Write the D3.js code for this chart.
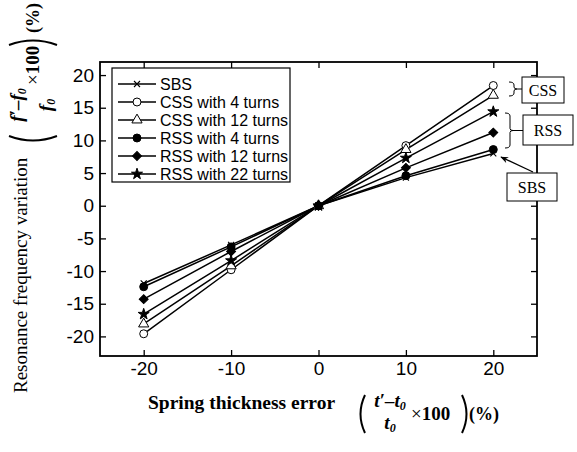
<!DOCTYPE html>
<html>
<head>
<meta charset="utf-8">
<script src="https://cdn.jsdelivr.net/npm/d3@7"></script>
<style>
  body { margin: 0; background: #fff; }
  svg { display: block; }
</style>
</head>
<body>
<div id="chart"></div>
<script>
// data
var thicknessError = [-20, -10, 0, 10, 20];
var seriesNames = ["SBS", "CSS with 4 turns", "CSS with 12 turns",
                   "RSS with 4 turns", "RSS with 12 turns", "RSS with 22 turns"];
var sbsValues   = [-11.9, -6.0, 0, 4.3, 8.0];
var css4Values  = [-19.6, -9.8, 0, 9.2, 18.4];
var css12Values = [-18.1, -9.2, 0, 8.6, 16.9];
var rss4Values  = [-12.4, -6.3, 0, 4.6, 8.6];
var rss12Values = [-14.3, -7.0, 0, 5.8, 11.2];
var rss22Values = [-16.6, -8.4, 0, 7.3, 14.4];
var xTickValues = [-20, -10, 0, 10, 20];
var yTickValues = [-20, -15, -10, -5, 0, 5, 10, 15, 20];

var allValues = [sbsValues, css4Values, css12Values, rss4Values, rss12Values, rss22Values];

// marker style per series (same order as seriesNames)
var markerStyles = [
  { shape: "x",        filled: false, size: 36 },
  { shape: "circle",   filled: false, size: 50 },
  { shape: "triangle", filled: false, size: 45 },
  { shape: "circle",   filled: true,  size: 50 },
  { shape: "diamond",  filled: true,  size: 40 },
  { shape: "star",     filled: true,  size: 38 }
];

var W = 577, H = 452;
var plotL = 100, plotR = 537, plotT = 62, plotB = 356;

var svg = d3.select("#chart").append("svg")
  .attr("width", W).attr("height", H)
  .style("background", "#fff");

var x = d3.scaleLinear().domain([-25, 25]).range([plotL, plotR]);
var y = d3.scaleLinear().domain([-23, 22]).range([plotB, plotT]);

var tickFont = "19px 'Liberation Sans', Arial, sans-serif";

// axes, ticks pointing inward on all four sides
var gx = svg.append("g").attr("transform", "translate(0," + plotB + ")")
  .call(d3.axisBottom(x).tickValues(xTickValues).tickSizeInner(-6).tickSizeOuter(0)
        .tickPadding(6).tickFormat(function (d) { return String(d); }));
var gy = svg.append("g").attr("transform", "translate(" + plotL + ",0)")
  .call(d3.axisLeft(y).tickValues(yTickValues).tickSizeInner(-6).tickSizeOuter(0)
        .tickPadding(6).tickFormat(function (d) { return String(d); }));
var gt = svg.append("g").attr("transform", "translate(0," + plotT + ")")
  .call(d3.axisTop(x).tickValues(xTickValues).tickSizeInner(-6).tickSizeOuter(0).tickFormat(""));
var gr = svg.append("g").attr("transform", "translate(" + plotR + ",0)")
  .call(d3.axisRight(y).tickValues(yTickValues).tickSizeInner(-6).tickSizeOuter(0).tickFormat(""));

[gx, gy, gt, gr].forEach(function (g) {
  g.select(".domain").remove();
  g.selectAll(".tick line").attr("stroke", "#000").attr("stroke-width", 1.3);
  g.selectAll(".tick text").style("font", tickFont).attr("fill", "#000");
});

// frame
svg.append("rect")
  .attr("x", plotL).attr("y", plotT)
  .attr("width", plotR - plotL).attr("height", plotB - plotT)
  .attr("fill", "none").attr("stroke", "#000").attr("stroke-width", 1.8);

function symbolPath(st) {
  if (st.shape === "x") {
    var s = Math.sqrt(st.size) / 2;
    return "M" + (-s) + "," + (-s) + "L" + s + "," + s + "M" + (-s) + "," + s + "L" + s + "," + (-s);
  }
  var type = { circle: d3.symbolCircle, triangle: d3.symbolTriangle,
               diamond: d3.symbolSquare, star: d3.symbolStar }[st.shape];
  return d3.symbol().type(type).size(st.size)();
}

function drawMarker(g, st, cx, cy) {
  g.append("path")
    .attr("d", symbolPath(st))
    .attr("transform", "translate(" + cx + "," + cy + ")" + (st.shape === "diamond" ? " rotate(45)" : ""))
    .attr("fill", st.filled ? "#000" : "#fff")
    .attr("stroke", "#000")
    .attr("stroke-width", st.shape === "x" ? 1.1 : 1);
}

var line = d3.line()
  .x(function (d) { return x(d[0]); })
  .y(function (d) { return y(d[1]); });

var plot = svg.append("g");
allValues.forEach(function (vals, i) {
  var pts = thicknessError.map(function (t, j) { return [t, vals[j]]; });
  plot.append("path").datum(pts)
    .attr("d", line)
    .attr("fill", "none").attr("stroke", "#000").attr("stroke-width", 1.5);
});
allValues.forEach(function (vals, i) {
  thicknessError.forEach(function (t, j) {
    drawMarker(plot, markerStyles[i], x(t), y(vals[j]));
  });
});

// legend
var legend = svg.append("g");
legend.append("rect")
  .attr("x", 112).attr("y", 68).attr("width", 178).attr("height", 114)
  .attr("fill", "#fff").attr("stroke", "#000").attr("stroke-width", 1.2);
seriesNames.forEach(function (name, i) {
  var ly = 84 + i * 18;
  legend.append("line")
    .attr("x1", 118).attr("x2", 156).attr("y1", ly).attr("y2", ly)
    .attr("stroke", "#000").attr("stroke-width", 1.3);
  drawMarker(legend, markerStyles[i], 137, ly);
  legend.append("text")
    .attr("x", 160).attr("y", ly + 5.5)
    .style("font", "16px 'Liberation Sans', Arial, sans-serif")
    .text(name);
});

// annotations on the right
var ann = svg.append("g").attr("fill", "none").attr("stroke", "#000").attr("stroke-width", 1);
function brace(y1, y2, xl, xr) {
  var m = (y1 + y2) / 2;
  ann.append("path").attr("d",
    "M" + xl + "," + y1 + " Q" + (xl + 5) + "," + y1 + " " + (xl + 5) + "," + (y1 + 3) +
    " L" + (xl + 5) + "," + (m - 2) + " Q" + (xl + 5) + "," + m + " " + (xl + 8) + "," + m +
    " Q" + (xl + 5) + "," + m + " " + (xl + 5) + "," + (m + 2) +
    " L" + (xl + 5) + "," + (y2 - 3) + " Q" + (xl + 5) + "," + y2 + " " + xl + "," + y2 +
    " M" + (xl + 8) + "," + m + " L" + xr + "," + m);
}
brace(82, 96, 509, 522);
brace(113, 148, 505, 523);

function labelBox(bx, by, bw, bh, txt) {
  svg.append("rect").attr("x", bx).attr("y", by).attr("width", bw).attr("height", bh)
    .attr("fill", "#fff").attr("stroke", "#000").attr("stroke-width", 1);
  svg.append("text").attr("x", bx + bw / 2).attr("y", by + bh / 2 + 5.5)
    .attr("text-anchor", "middle")
    .style("font", "16px 'Liberation Serif', 'Times New Roman', serif")
    .text(txt);
}
labelBox(522, 77, 42, 26, "CSS");
labelBox(523, 115, 50, 30, "RSS");
labelBox(507, 173, 50, 28, "SBS");

svg.append("defs").append("marker")
  .attr("id", "arrowhead").attr("viewBox", "0 0 10 10")
  .attr("refX", 9).attr("refY", 5)
  .attr("markerWidth", 10).attr("markerHeight", 8)
  .attr("markerUnits", "userSpaceOnUse")
  .attr("orient", "auto")
  .append("path").attr("d", "M0,1 L10,5 L0,9 L3,5 Z").attr("fill", "#000");
svg.append("line")
  .attr("x1", 533).attr("y1", 172).attr("x2", 501).attr("y2", 157)
  .attr("stroke", "#000").attr("stroke-width", 1.2)
  .attr("marker-end", "url(#arrowhead)");

// axis titles
var serif = "'Liberation Serif', 'Times New Roman', serif";

function fraction(g, v, o) {
  g.append("path").attr("d", "M7," + (-o.ph) + " Q-2,0 7," + o.ph)
    .attr("fill", "none").attr("stroke", "#000").attr("stroke-width", 2);
  var num = g.append("text").attr("x", o.numX).attr("y", o.numY).attr("text-anchor", "middle")
    .style("font", "italic bold " + o.fs + "px " + serif);
  num.append("tspan").text(v + "\u2032\u2013" + v);
  num.append("tspan").attr("dy", 3).style("font-size", "12px").text("0");
  var den = g.append("text").attr("x", o.numX).attr("y", o.denY).attr("text-anchor", "middle")
    .style("font", "italic bold " + o.fs + "px " + serif);
  den.append("tspan").text(v);
  den.append("tspan").attr("dy", 3).style("font-size", "12px").text("0");
  var times = g.append("text").attr("x", o.timesX).attr("y", 6)
    .style("font", "bold 19px " + serif);
  times.append("tspan").style("font-weight", "normal").text("\u00d7");
  times.append("tspan").text("100");
  g.append("path").attr("d", "M" + o.rpX + "," + (-o.ph) + " Q" + (o.rpX + 9) + ",0 " + o.rpX + "," + o.ph)
    .attr("fill", "none").attr("stroke", "#000").attr("stroke-width", 2);
  g.append("text").attr("x", o.pctX).attr("y", 6)
    .style("font", "bold 18px " + serif).text("(%)");
}

svg.append("text")
  .attr("x", 148).attr("y", 409)
  .style("font", "bold 19.5px " + serif)
  .text("Spring thickness error");
fraction(svg.append("g").attr("transform", "translate(358,414)"), "t",
  { ph: 19, numX: 32, numY: -7, denY: 15, timesX: 53, rpX: 104, pctX: 111, fs: 19 });

svg.append("text")
  .attr("transform", "translate(27,393) rotate(-90)")
  .style("font", "19px " + serif)
  .text("Resonance frequency variation");
fraction(svg.append("g").attr("transform", "translate(33,143) rotate(-90)"), "f",
  { ph: 24, numX: 38, numY: -10, denY: 19, timesX: 58, rpX: 98, pctX: 110, fs: 19 });
</script>
</body>
</html>
